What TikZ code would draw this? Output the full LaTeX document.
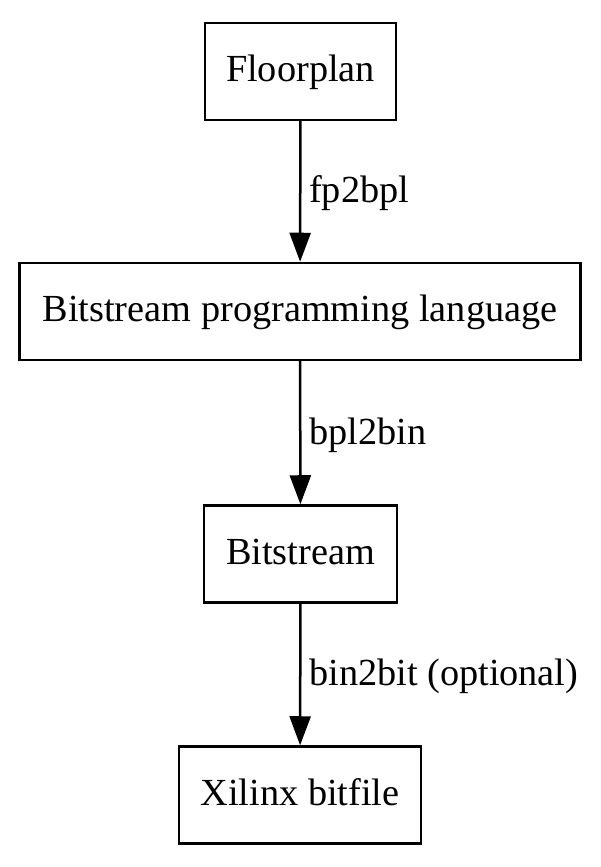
\documentclass[tikz,border=0pt]{standalone}
\usepackage{fontspec}
\setmainfont{Liberation Serif}
\usetikzlibrary{arrows.meta}
\begin{document}
\begin{tikzpicture}[x=1pt,y=1pt,
  box/.style={draw,line width=2.5pt,inner sep=0pt,minimum height=97pt,text height=30pt,text depth=9pt,font=\fontsize{38.3}{46}\selectfont},
  conn/.style={line width=2.5pt,-{Triangle[length=29pt,width=21pt]}},
  lbl/.style={anchor=base west,inner sep=0pt,font=\fontsize{38.3}{46}\selectfont}]
\useasboundingbox (0,0) rectangle (600,867);
\node[box,minimum width=191pt] (fp) at (300.5,795.5) {Floorplan};
\node[box,minimum width=561pt] (bpl) at (300,555.5) {Bitstream programming language};
\node[box,minimum width=193pt] (bs) at (300.5,313) {Bitstream};
\node[box,minimum width=242pt] (xb) at (300,72) {Xilinx bitfile};
\draw[conn] (fp) -- (bpl);
\draw[conn] (bpl) -- (bs);
\draw[conn] (bs) -- (xb);
\node[lbl] (l1) at (309,664) {fp2bpl};
\node[lbl] (l2) at (309,422) {bpl2bin};
\node[lbl] (l3) at (309,181) {bin2bit (optional)};
\end{tikzpicture}
\end{document}
